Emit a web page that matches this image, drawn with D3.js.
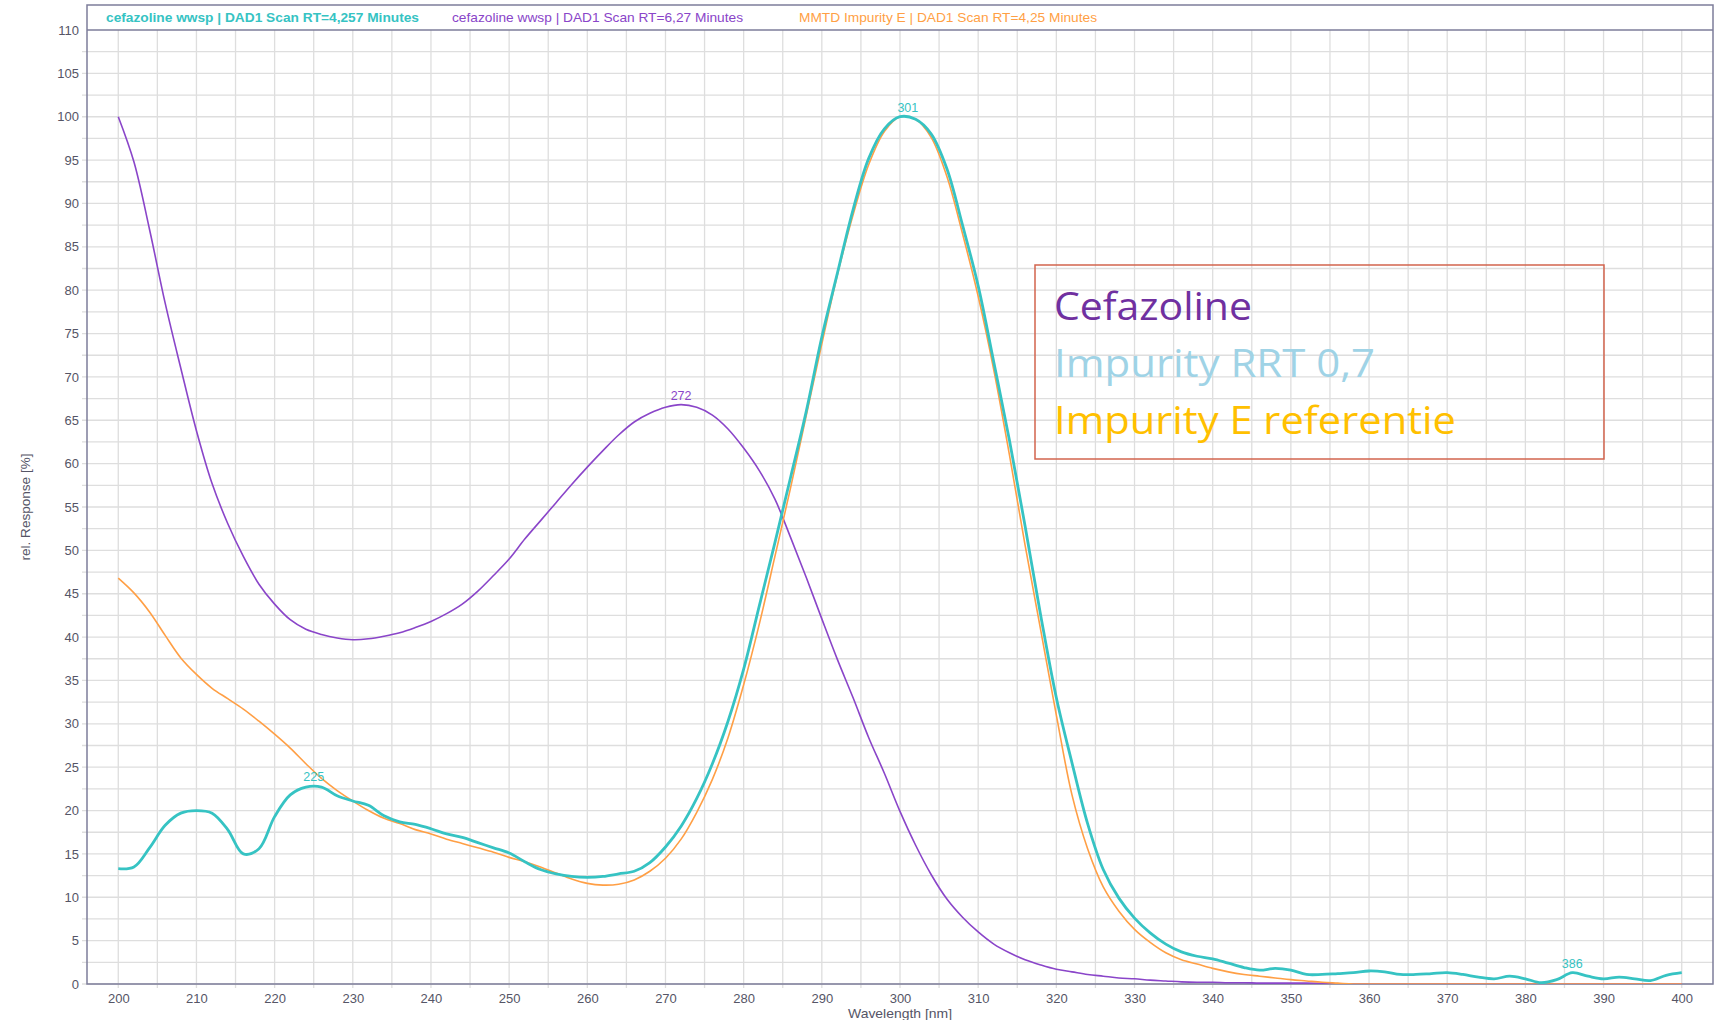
<!DOCTYPE html>
<html>
<head>
<meta charset="utf-8">
<script src="https://cdn.jsdelivr.net/npm/d3@7"></script>
<style>
  html, body { margin: 0; padding: 0; background: #ffffff; }
  svg { display: block; }
</style>
</head>
<body>
<svg id="chart" width="1724" height="1020"></svg>
<script>
// ---------------- DATA ----------------
const wavelengths = [200,202,204,206,208,210,212,214,216,218,220,222,224,226,228,230,232,234,236,238,240,242,244,246,248,250,252,254,256,258,260,262,264,266,268,270,272,274,276,278,280,282,284,286,288,290,292,294,296,298,300,302,304,306,308,310,312,314,316,318,320,322,324,326,328,330,332,334,336,338,340,342,344,346,348,350,352,354,356,358,360,362,364,366,368,370,372,374,376,378,380,382,384,386,388,390,392,394,396,398,400];

// cefazoline wwsp | DAD1 Scan RT=6,27 Minutes (purple)
const cefazoline = [100,94.8,87,78.5,71,63.8,57.7,53.1,49.3,46.1,43.8,42,40.9,40.3,39.9,39.7,39.8,40.1,40.5,41.1,41.8,42.7,43.8,45.3,47.1,49,51.3,53.4,55.5,57.6,59.6,61.5,63.3,64.8,65.8,66.5,66.8,66.5,65.6,64,61.8,59.2,55.9,51.5,46.9,42.1,37.4,33,28.4,24.3,19.9,16,12.6,9.8,7.7,6,4.6,3.6,2.8,2.2,1.7,1.4,1.1,0.9,0.7,0.6,0.45,0.35,0.25,0.2,0.2,0.15,0.15,0.1,0.1,0.1,0.1,0.05,0,0,0,0,0,0,0,0,0,0,0,0,0,0,0,0,0,0,0,0,0,0,0];

// cefazoline wwsp | DAD1 Scan RT=4,257 Minutes (teal, impurity RRT 0,7)
const impurityRRT = [13.3,13.5,15.7,18.3,19.7,20,19.7,17.8,15,15.6,19.3,21.8,22.7,22.7,21.7,21.1,20.6,19.4,18.7,18.4,17.9,17.3,16.9,16.3,15.7,15.1,14.1,13.2,12.7,12.4,12.3,12.4,12.7,13,14,15.8,18.2,21.4,25.4,30.3,36.3,43.6,50.9,58.4,66,74.6,82,89.3,95.2,98.6,100,99.7,98,94,87.5,80.5,71.7,62.7,52.8,42.5,33,25.5,18.5,13.2,9.9,7.6,5.9,4.6,3.7,3.2,2.9,2.4,1.9,1.6,1.8,1.6,1.1,1.1,1.2,1.3,1.5,1.4,1.1,1.1,1.2,1.3,1.1,0.8,0.6,0.9,0.6,0.15,0.5,1.3,0.9,0.6,0.8,0.6,0.4,1,1.3];

// MMTD Impurity E | DAD1 Scan RT=4,25 Minutes (orange)
const impurityE = [46.8,45.1,42.9,40.2,37.6,35.7,34.1,32.9,31.7,30.3,28.8,27.2,25.4,23.7,22.3,21.1,20,19.1,18.5,17.8,17.3,16.7,16.2,15.7,15.2,14.6,14.1,13.5,12.8,12.1,11.6,11.4,11.5,12,13,14.5,16.7,19.8,23.6,28.4,34.5,41.5,49.3,57.2,65.5,73.8,81.8,88.7,94.5,98.3,100,99.7,97.6,93.1,86.5,79.3,70.8,61,50.6,40.8,31,21.8,15.6,11.2,8.4,6.3,4.8,3.6,2.8,2.3,1.8,1.4,1.1,0.9,0.7,0.5,0.35,0.2,0.1,0,0,0,0,0,0,0,0,0,0,0,0,0,0,0,0,0,0,0,0,0,0];

const seriesNames = ["cefazoline wwsp | DAD1 Scan RT=4,257 Minutes", "cefazoline wwsp | DAD1 Scan RT=6,27 Minutes", "MMTD Impurity E | DAD1 Scan RT=4,25 Minutes"];

// peak annotations
const peakLabels = ["225", "272", "301", "386"];
const peakWavelengths = [225, 272, 301, 386];
const peakValues = [22.8, 66.8, 100, 1.3];
const peakSeries = ["teal", "purple", "teal", "teal"];

const xTickLabels = [200,210,220,230,240,250,260,270,280,290,300,310,320,330,340,350,360,370,380,390,400];
const yTickLabels = [0,5,10,15,20,25,30,35,40,45,50,55,60,65,70,75,80,85,90,95,100,105,110];

const boxLines = ["Cefazoline", "Impurity RRT 0,7", "Impurity E referentie"];

// ---------------- LAYOUT ----------------
(function () {
const W = 1724, H = 1020;
const pL = 87, pR = 1713, pT = 30, pB = 984, frameTop = 5;
const colors = { teal: "#36c3c3", purple: "#8a45c9", orange: "#ff9f45" };
const axisColor = "#7d7d9a";
const gridColor = "#dedede";
const tickTextColor = "#555566";

const svg = d3.select("#chart");
svg.append("rect").attr("width", W).attr("height", H).attr("fill", "#fff");

const x = d3.scaleLinear().domain([196, 404]).range([pL, pR]);
const y = d3.scaleLinear().domain([0, 110]).range([pB, pT]);

// gridlines
const xGrid = d3.range(200, 401, 5);
const yGrid = d3.range(0, 110, 2.5);
const grid = svg.append("g");
grid.selectAll("line.gx").data(xGrid).join("line").attr("class", "gx")
  .attr("x1", d => x(d)).attr("x2", d => x(d))
  .attr("y1", pT).attr("y2", pB + 4)
  .attr("stroke", gridColor).attr("stroke-width", 1.3);
grid.selectAll("line.gy").data(yGrid).join("line").attr("class", "gy")
  .attr("x1", pL - 5).attr("x2", pR)
  .attr("y1", d => y(d)).attr("y2", d => y(d))
  .attr("stroke", gridColor).attr("stroke-width", 1.3);

// axes
const xAxis = d3.axisBottom(x).tickValues(xTickLabels).tickSize(0).tickPadding(10).tickFormat(d3.format("d"));
const gx = svg.append("g").attr("transform", `translate(0,${pB})`).call(xAxis);
gx.select(".domain").remove();
gx.selectAll("text").attr("fill", tickTextColor).attr("font-family", "Liberation Sans, Arial, sans-serif").attr("font-size", 13);

const yAxis = d3.axisLeft(y).tickValues(yTickLabels).tickSize(0).tickPadding(8).tickFormat(d3.format("d"));
const gy = svg.append("g").attr("transform", `translate(${pL},0)`).call(yAxis);
gy.select(".domain").remove();
gy.selectAll("text").attr("fill", tickTextColor).attr("font-family", "Liberation Sans, Arial, sans-serif").attr("font-size", 13);

// frame
const frame = svg.append("g").attr("fill", "none").attr("stroke", axisColor);
frame.append("rect").attr("x", pL).attr("y", frameTop).attr("width", pR - pL).attr("height", pB - frameTop).attr("stroke-width", 1.5);
frame.append("line").attr("x1", pL).attr("x2", pR).attr("y1", pT).attr("y2", pT).attr("stroke-width", 1.5);

// axis titles
svg.append("text").attr("x", (pL + pR) / 2).attr("y", 1018).attr("text-anchor", "middle")
  .attr("fill", tickTextColor).attr("font-family", "Liberation Sans, Arial, sans-serif").attr("font-size", 13.5)
  .attr("textLength", 104).attr("lengthAdjust", "spacingAndGlyphs")
  .text("Wavelength [nm]");
svg.append("text").attr("transform", "translate(30,507) rotate(-90)").attr("text-anchor", "middle")
  .attr("fill", tickTextColor).attr("font-family", "Liberation Sans, Arial, sans-serif").attr("font-size", 13.5)
  .attr("textLength", 107).attr("lengthAdjust", "spacingAndGlyphs")
  .text("rel. Response [%]");

// legend strip
const legendX = [106, 452, 799];
const legendW = [313, 291, 298];
const legendC = [colors.teal, colors.purple, colors.orange];
seriesNames.forEach((n, i) => {
  svg.append("text").attr("x", legendX[i]).attr("y", 22)
    .attr("fill", legendC[i]).attr("font-family", "Liberation Sans, Arial, sans-serif")
    .attr("font-size", 13).attr("font-weight", i === 0 ? "bold" : "normal")
    .attr("textLength", legendW[i]).attr("lengthAdjust", "spacingAndGlyphs")
    .text(n);
});

// clip
svg.append("clipPath").attr("id", "plotclip").append("rect")
  .attr("x", pL).attr("y", pT).attr("width", pR - pL).attr("height", pB - pT);

const line = d3.line().x(d => x(d[0])).y(d => y(d[1])).curve(d3.curveCatmullRom.alpha(0.5));
const plot = svg.append("g").attr("clip-path", "url(#plotclip)");
const mk = arr => wavelengths.map((w, i) => [w, arr[i]]);
plot.append("path").attr("d", line(mk(cefazoline))).attr("fill", "none").attr("stroke", colors.purple).attr("stroke-width", 1.6);
plot.append("path").attr("d", line(mk(impurityE))).attr("fill", "none").attr("stroke", colors.orange).attr("stroke-width", 1.6);
plot.append("path").attr("d", line(mk(impurityRRT))).attr("fill", "none").attr("stroke", colors.teal).attr("stroke-width", 2.8);

// peak labels
peakLabels.forEach((t, i) => {
  svg.append("text").attr("x", x(peakWavelengths[i])).attr("y", y(peakValues[i]) - 5)
    .attr("text-anchor", "middle").attr("fill", colors[peakSeries[i]])
    .attr("font-family", "Liberation Sans, Arial, sans-serif").attr("font-size", 12.5)
    .text(t);
});

// annotation box
svg.append("rect").attr("x", 1035).attr("y", 265).attr("width", 569).attr("height", 194)
  .attr("fill", "none").attr("stroke", "#d2644e").attr("stroke-width", 1.5);
const boxColors = ["#7030a0", "#9fd3e6", "#ffc000"];
const boxBase = [320, 377, 434];
const boxWidths = [198, 321, 402];
boxLines.forEach((t, i) => {
  svg.append("text").attr("x", 1054).attr("y", boxBase[i])
    .attr("fill", boxColors[i]).attr("font-family", "'Open Sans', Lato, sans-serif")
    .attr("font-size", 39).attr("textLength", boxWidths[i]).attr("lengthAdjust", "spacingAndGlyphs")
    .text(t);
});
})();
</script>
</body>
</html>
